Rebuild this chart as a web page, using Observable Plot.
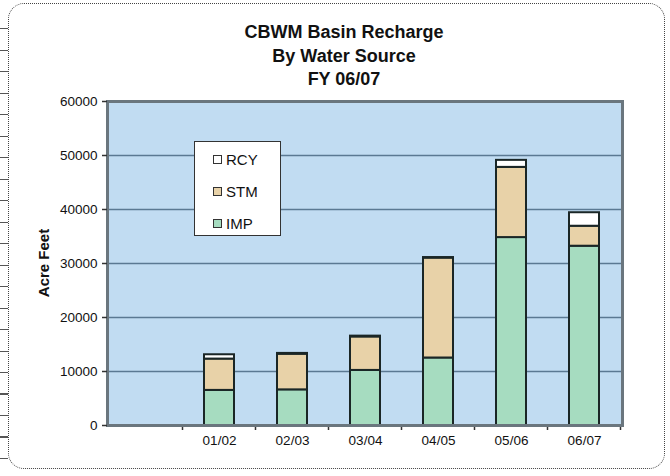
<!DOCTYPE html>
<html>
<head>
<meta charset="utf-8">
<script src="https://cdn.jsdelivr.net/npm/d3@7"></script>
<script src="https://cdn.jsdelivr.net/npm/@observablehq/plot@0.6"></script>
<style>
  html, body { margin: 0; padding: 0; background: #fff; }
  #wrap { position: relative; width: 670px; height: 476px; overflow: hidden; font-family: "Liberation Sans", Arial, sans-serif; }
  #border { position: absolute; left: 8px; top: 3px; width: 657px; height: 466px; border: 1.5px dotted #444; border-radius: 16px; box-sizing: border-box; }
  #ruler { position: absolute; left: 0; top: 8px; width: 8px; height: 460px;
    background: repeating-linear-gradient(to bottom, transparent 0, transparent 20px, #555 20px, #555 21.5px); }
  #title { position: absolute; left: 0; top: 21px; width: 688px; text-align: center; font-weight: bold; font-size: 18px; line-height: 23.5px; color: #111; }
  #chart { position: absolute; left: 0; top: 0; }
  #ylabel { position: absolute; left: 43px; top: 263px; transform: translate(-50%, -50%) rotate(-90deg); font-weight: bold; font-size: 15px; color: #111; white-space: nowrap; }
  #legend { position: absolute; left: 194px; top: 141px; width: 87px; height: 95px; background: #fff; border: 1.2px solid #333; box-sizing: border-box; font-size: 15px; color: #111; }
  .item { position: absolute; left: 18px; display: flex; align-items: center; height: 18px; }
  .sw { width: 7px; height: 7px; border: 1.3px solid #333; margin-right: 4px; }
</style>
</head>
<body>
<div id="wrap">
  <div id="ruler"></div>
  <div id="border"></div>
  <div id="chart"></div>
  <div id="title"></div>
  <div id="ylabel"></div>
  <div id="legend"></div>
</div>
<script>
const titleLines = ["CBWM Basin Recharge", "By Water Source", "FY 06/07"];
const periods = ["01/02", "02/03", "03/04", "04/05", "05/06", "06/07"];
const sources = ["IMP", "STM", "RCY"];
const legendOrder = ["RCY", "STM", "IMP"];
const colors = ["#a6dcc0", "#e8d2a8", "#ffffff"];
const imp = [6500, 6600, 10200, 12500, 34800, 33200];
const stm = [5800, 6600, 6200, 18500, 13000, 3700];
const rcy = [800, 150, 150, 100, 1300, 2500];
const yTicks = [0, 10000, 20000, 30000, 40000, 50000, 60000];
const gridTicks = [10000, 20000, 30000, 40000, 50000];
const yLabel = "Acre Feet";

const series = {IMP: imp, STM: stm, RCY: rcy};
const rows = periods.flatMap((p, i) => sources.map(s => ({period: p, source: s, value: series[s][i]})));
const xDomain = [""].concat(periods);

document.getElementById("title").innerHTML = titleLines.map(t => `<div>${t}</div>`).join("");
document.getElementById("ylabel").textContent = yLabel;

function boundaryTicks(index, scales, values, dims) {
  const x = scales.x;
  const step = x(xDomain[2]) - x(xDomain[1]);
  const bw = x.bandwidth ? x.bandwidth() : 0;
  const y0 = dims.height - dims.marginBottom;
  const g = d3.create("svg:g").attr("stroke", "#333").attr("stroke-width", 1.5);
  xDomain.forEach(c => {
    const bx = x(c) + bw / 2 + step / 2;
    g.append("line").attr("x1", bx).attr("x2", bx).attr("y1", y0).attr("y2", y0 + 5);
  });
  return g.node();
}

const chart = Plot.plot({
  width: 670,
  height: 476,
  marginTop: 101,
  marginBottom: 51,
  marginLeft: 107,
  marginRight: 48,
  style: {fontFamily: "'Liberation Sans', Arial, sans-serif", background: "transparent", color: "#111"},
  x: {domain: xDomain, paddingInner: 0.59, paddingOuter: 0.295, label: null},
  y: {domain: [0, 60000], label: null},
  color: {domain: sources, range: colors},
  marks: [
    Plot.frame({fill: "#c1dcf2", stroke: null}),
    Plot.ruleY(gridTicks, {stroke: "#5b7993", strokeWidth: 1.5}),
    Plot.barY(rows, Plot.stackY({x: "period", y: "value", z: "source", fill: "source", order: sources, stroke: "#1a2626", strokeWidth: 2})),
    boundaryTicks,
    Plot.frame({stroke: "#6a767e", strokeWidth: 3}),
    Plot.axisY(yTicks, {tickSize: 5, tickPadding: 5, fontSize: 13.5, stroke: "#333", strokeWidth: 1.5, tickFormat: d => String(d), label: null}),
    Plot.axisX(periods, {tickSize: 0, tickPadding: 10, fontSize: 13.5, label: null})
  ]
});
document.getElementById("chart").appendChild(chart);

const legend = document.getElementById("legend");
legendOrder.forEach((s, i) => {
  const item = document.createElement("div");
  item.className = "item";
  item.style.top = (8 + i * 32) + "px";
  const sw = document.createElement("div");
  sw.className = "sw";
  sw.style.background = colors[sources.indexOf(s)];
  const lab = document.createElement("span");
  lab.textContent = s;
  item.appendChild(sw);
  item.appendChild(lab);
  legend.appendChild(item);
});
</script>
</body>
</html>
